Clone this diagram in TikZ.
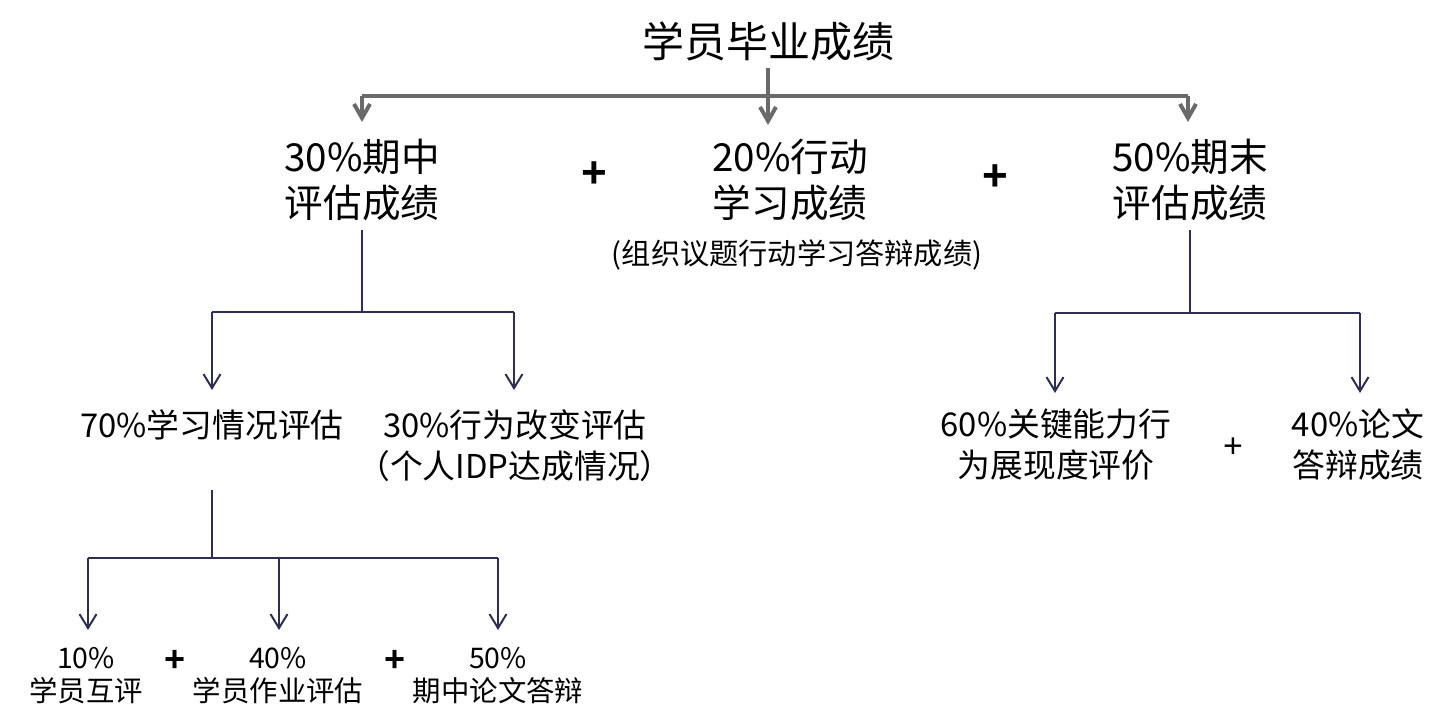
\documentclass[tikz,border=0pt]{standalone}
\usepackage{fontspec}
\setmainfont{Noto Sans CJK SC}
\newfontfamily\plusfont{Liberation Sans}
\usetikzlibrary{arrows.meta}
\definecolor{topgray}{HTML}{6A6A6A}
\definecolor{navy}{HTML}{2E2E50}
\begin{document}
\begin{tikzpicture}[x=0.5pt,y=-0.5pt,
  every node/.style={inner sep=0pt, align=center, text=black},
  titletxt/.style={font=\fontsize{21pt}{25pt}\selectfont},
  lvtwo/.style={font=\fontsize{19.3pt}{23pt}\selectfont},
  note/.style={font=\fontsize{14.6pt}{17pt}\selectfont},
  lvthree/.style={font=\fontsize{16.4pt}{20.5pt}\selectfont},
  lvfour/.style={font=\fontsize{14.2pt}{16.5pt}\selectfont},
  bigplus/.style={font=\plusfont\bfseries\fontsize{22pt}{22pt}\selectfont},
  smallplus/.style={font=\plusfont\bfseries\fontsize{18pt}{18pt}\selectfont},
  thinplus/.style={font=\plusfont\fontsize{17pt}{17pt}\selectfont},
  grayline/.style={draw=topgray, line width=2pt},
  grayarrow/.style={grayline, -{Straight Barb[length=7pt,width=8pt,line width=2pt]}},
  navyline/.style={draw=navy, line width=1pt},
  navyarrow/.style={navyline, -{Straight Barb[length=7pt,width=8.5pt,line width=1pt]}}]
\useasboundingbox (0,0) rectangle (1456,726);

% texts
\node[titletxt] (title) at (768,42) {学员毕业成绩};
\node[lvtwo] (mid30) at (362,180) {30\%期中\\评估成绩};
\node[bigplus] (p1) at (594,175) {+};
\node[lvtwo] (act20) at (790,180) {20\%行动\\学习成绩};
\node[note] (actnote) at (797,255) {(组织议题行动学习答辩成绩)};
\node[bigplus] (p2) at (995,178) {+};
\node[lvtwo] (fin50) at (1190,180) {50\%期末\\评估成绩};

\node[lvthree] (learn70) at (212,425) {70\%学习情况评估};
\node[lvthree] (beh30) at (515,446) {30\%行为改变评估\\（个人IDP达成情况）};

\node[lvfour] (peer10) at (86,676) {10\%\\学员互评};
\node[smallplus] (p3) at (175,661) {+};
\node[lvfour] (work40) at (278,676) {40\%\\学员作业评估};
\node[smallplus] (p4) at (395,661) {+};
\node[lvfour] (thesis50) at (498,676) {50\%\\期中论文答辩};

\node[lvthree] (key60) at (1056,445) {60\%关键能力行\\为展现度评价};
\node[thinplus] (p5) at (1233,448) {+};
\node[lvthree] (def40) at (1358,445) {40\%论文\\答辩成绩};

% junction coordinates
\coordinate (tTop) at (768,68);
\coordinate (tL) at (362,96);
\coordinate (tM) at (768,96);
\coordinate (tR) at (1188,96);
\coordinate (tipL) at (362,122);
\coordinate (tipM) at (768,125);
\coordinate (tipR) at (1188,122);

\coordinate (aTop) at (362,230);
\coordinate (aJ) at (362,312);
\coordinate (aL) at (212,312);
\coordinate (aR) at (514,312);
\coordinate (aTipL) at (212,390);
\coordinate (aTipR) at (514,390);

\coordinate (bTop) at (212,490);
\coordinate (bJ) at (212,558);
\coordinate (bL) at (88,558);
\coordinate (bM) at (279,558);
\coordinate (bR) at (498,558);
\coordinate (bTipL) at (88,630);
\coordinate (bTipM) at (279,630);
\coordinate (bTipR) at (498,630);

\coordinate (cTop) at (1190,230);
\coordinate (cJ) at (1190,313);
\coordinate (cL) at (1055,313);
\coordinate (cR) at (1360,313);
\coordinate (cTipL) at (1055,393);
\coordinate (cTipR) at (1360,393);

% top connectors
\draw[grayline] (tL) -- (tR);
\draw[grayarrow] (tTop) -- (tipM);
\draw[grayarrow] (tL) -- (tipL);
\draw[grayarrow] (tR) -- (tipR);

% left subtree
\draw[navyline] (aTop) -- (aJ);
\draw[navyline] (aL) -- (aR);
\draw[navyarrow] (aL) -- (aTipL);
\draw[navyarrow] (aR) -- (aTipR);

% lower-left subtree
\draw[navyline] (bTop) -- (bJ);
\draw[navyline] (bL) -- (bR);
\draw[navyarrow] (bL) -- (bTipL);
\draw[navyarrow] (bM) -- (bTipM);
\draw[navyarrow] (bR) -- (bTipR);

% right subtree
\draw[navyline] (cTop) -- (cJ);
\draw[navyline] (cL) -- (cR);
\draw[navyarrow] (cL) -- (cTipL);
\draw[navyarrow] (cR) -- (cTipR);
\end{tikzpicture}
\end{document}
